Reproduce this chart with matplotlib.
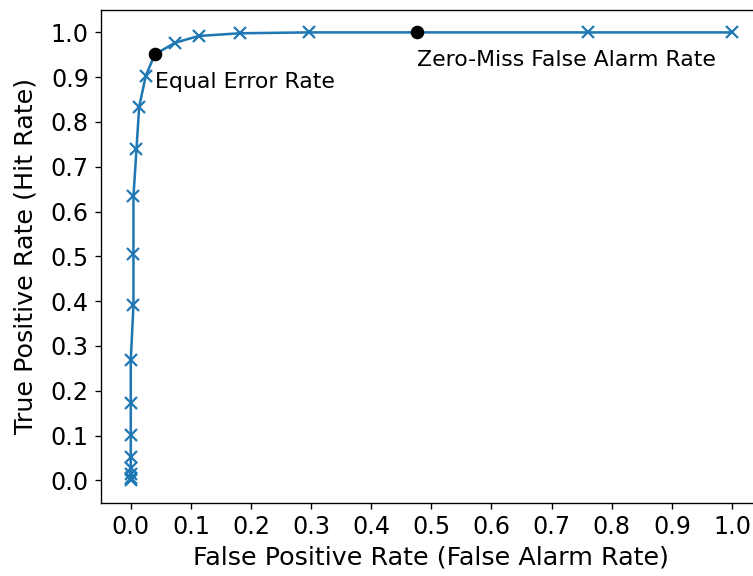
# import packages
import matplotlib
matplotlib.use('Agg')
import matplotlib.pyplot as plt

# ROC curve points (false alarm rate, hit rate)
fpr = [0.0, 0.0, 0.0, 0.0, 0.0, 0.0, 0.0, 0.0, 0.0045, 0.0045, 0.0045,
       0.0095, 0.014, 0.025, 0.04, 0.074, 0.113, 0.181, 0.296, 0.476,
       0.760, 1.0]
tpr = [0.0, 0.005, 0.013, 0.028, 0.052, 0.102, 0.173, 0.268, 0.391, 0.506,
       0.634, 0.739, 0.834, 0.903, 0.951, 0.977, 0.992, 0.998, 1.0, 1.0,
       1.0, 1.0]

# special operating points
eer_point = (0.04, 0.951)
zero_miss_point = (0.476, 1.0)
point_labels = ['Equal Error Rate', 'Zero-Miss False Alarm Rate']

# crosses everywhere except under the black dots
special = [(x, y) for x, y in [eer_point, zero_miss_point]]
cross_idx = [i for i in range(len(fpr)) if (fpr[i], tpr[i]) not in special]

dpi = 122
fig = plt.figure(figsize=(753 / dpi, 576 / dpi), dpi=dpi)
# axes run past the right edge, like the cropped reference
ax = fig.add_axes([100.7 / 753, (576 - 502.7) / 576,
                   (762 - 100.7) / 753, (502.7 - 10) / 576])

# Draw the curve
ax.plot(fpr, tpr, marker='x', color='tab:blue', markersize=6.5,
        markeredgewidth=1.3, markevery=cross_idx)

# Mark the special points
for (px, py), label in zip([eer_point, zero_miss_point], point_labels):
    ax.plot(px, py, 'ko', markersize=7, zorder=5)
    ax.annotate(label, (px, py), textcoords='offset points',
                xytext=(0, -20), fontsize=13, ha='left', va='baseline')

ax.set_xlim(-0.05, 1.05)
ax.set_ylim(-0.05, 1.05)
ax.set_xticks([i / 10 for i in range(11)])
ax.set_yticks([i / 10 for i in range(11)])
ax.tick_params(labelsize=14)
ax.set_xlabel('False Positive Rate (False Alarm Rate)', fontsize=15)
ax.set_ylabel('True Positive Rate (Hit Rate)', fontsize=15, labelpad=8)

fig.savefig('out.png', dpi=dpi)
